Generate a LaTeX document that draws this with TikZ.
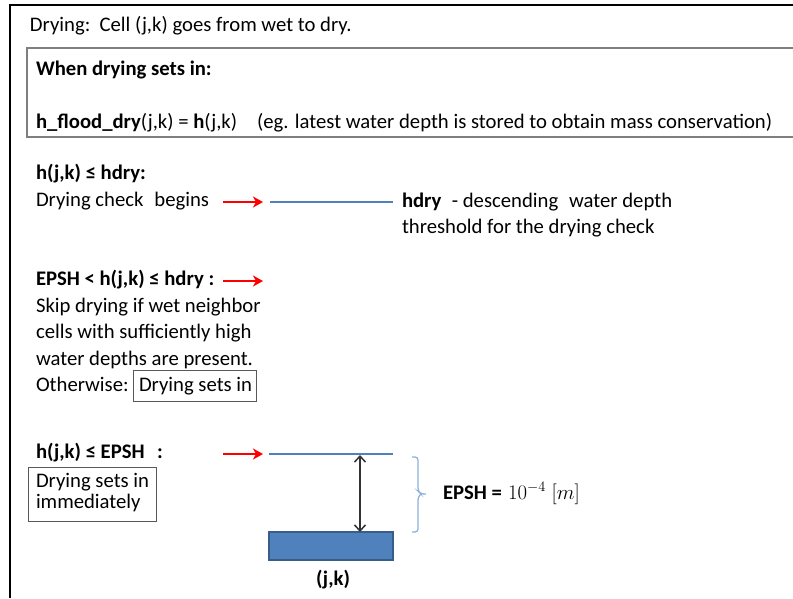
\documentclass[tikz,border=0pt]{standalone}
\usepackage{fontspec}
\setmainfont{Carlito}
\usetikzlibrary{arrows.meta}
\definecolor{waterblue}{HTML}{4F81BD}
\definecolor{cellborder}{HTML}{385D8A}
\definecolor{bracecol}{HTML}{8EB0DA}
\definecolor{framegray}{HTML}{7F7F7F}
\definecolor{boxgray}{HTML}{595959}
\begin{document}
\begin{tikzpicture}[x=1pt,y=-1pt,
  every node/.style={inner sep=0pt, outer sep=0pt},
  txt/.style={anchor=base west, font=\fontsize{20.7}{26}\selectfont},
  btxt/.style={txt, font=\fontsize{20.7}{26}\selectfont\bfseries},
  redarrow/.style={draw=red, line width=2.2pt, -{Stealth[length=10pt,width=11pt,inset=3pt]}},
  level/.style={draw=waterblue, line width=2pt},
  framebox/.style={draw=boxgray, line width=1pt},
  gapmark/.style={draw=black!80, line width=1.5pt,
    {Straight Barb[length=6pt,width=11pt,line width=1.5pt]}-{Straight Barb[length=6pt,width=11pt,line width=1.5pt]}}
]
\useasboundingbox (0,0) rectangle (793,598);

% outer frame
\draw[line width=2pt] (10,598) -- (10,5) -- (793,5);

% heading
\node[txt] (title) at (30,31) {Drying:\hspace{0.45em}Cell (j,k) goes from wet to dry.};

% box: when drying sets in
\draw[draw=framegray, line width=1.6pt] (793,48) -- (27,48) -- (27,137) -- (793,137);
\node[btxt] (when) at (36,75) {When drying sets in:};
\node[txt] (store) at (36,128) {\textbf{h\_flood\_dry}(j,k) = \textbf{h}(j,k)\hspace{20pt}(eg. latest water depth is stored to obtain mass conservation)};

% hdry level
\node[btxt] (c1) at (36,179) {h(j,k) ≤ hdry:};
\node[txt] (check) at (36,206) {Drying check\hspace{0.3em} begins};
\coordinate (a1s) at (223,202);
\coordinate (a1e) at (263,202);
\coordinate (l1s) at (270,202);
\coordinate (l1e) at (393,202);
\draw[redarrow] (a1s) -- (a1e);
\draw[level] (l1s) -- (l1e);
\node[txt] (hdry) at (402,207) {\textbf{hdry}\hspace{0.5em}- descending\hspace{0.3em} water depth};
\node[txt] (thr) at (402,233) {threshold for the drying check};

% EPSH < h <= hdry
\node[btxt] (c2) at (36,285) {EPSH < h(j,k) ≤ hdry :};
\coordinate (a2s) at (223,281);
\coordinate (a2e) at (263,281);
\draw[redarrow] (a2s) -- (a2e);
\node[txt] (s1) at (36,312) {Skip drying if wet neighbor};
\node[txt] (s2) at (36,338) {cells with sufficiently high};
\node[txt] (s3) at (36,365) {water depths are present.};
\node[txt] (s4) at (36,391) {Otherwise:};
\node[framebox, anchor=north west, minimum width=123, minimum height=31] (setsin) at (133,370) {};
\node[txt] (setsintxt) at (139,391) {Drying sets in};

% h <= EPSH
\node[btxt] (c3) at (36,458) {h(j,k) ≤ EPSH\hspace{0.6em}:};
\node[framebox, anchor=north west, minimum width=128, minimum height=54] (imm) at (28,467) {};
\node[txt] (imm1) at (36,487) {Drying sets in};
\node[txt] (imm2) at (36,508) {immediately};
\coordinate (a3s) at (223,454);
\coordinate (a3e) at (263,454);
\coordinate (l2s) at (269,454);
\coordinate (l2e) at (393,454);
\draw[redarrow] (a3s) -- (a3e);
\draw[level, line width=1.8pt] (l2s) -- (l2e);

% cell
\node[fill=waterblue, draw=cellborder, line width=1.5pt, anchor=north west,
  minimum width=124, minimum height=28] (cell) at (269,532) {};
\node[btxt, anchor=base] (cellname) at (333,585) {(j,k)};
\coordinate (gtop) at (360,455);
\draw[gapmark] (gtop) -- (gtop |- cell.north);

% EPSH brace and value
\coordinate (btop) at (412,457);
\coordinate (btip) at (426,494);
\coordinate (bbot) at (412,532);
\draw[draw=bracecol, line width=1.3pt, rounded corners=3pt]
  (btop) -- (418,457) -- (418,491) -- (421,494) -- (btip)
  (421,494) -- (418,497) -- (418,532) -- (bbot);
\node[btxt] (epsh) at (443,499) {EPSH =\hspace{0.3em}\mdseries$10^{-4}\;[m]$};
\end{tikzpicture}
\end{document}
